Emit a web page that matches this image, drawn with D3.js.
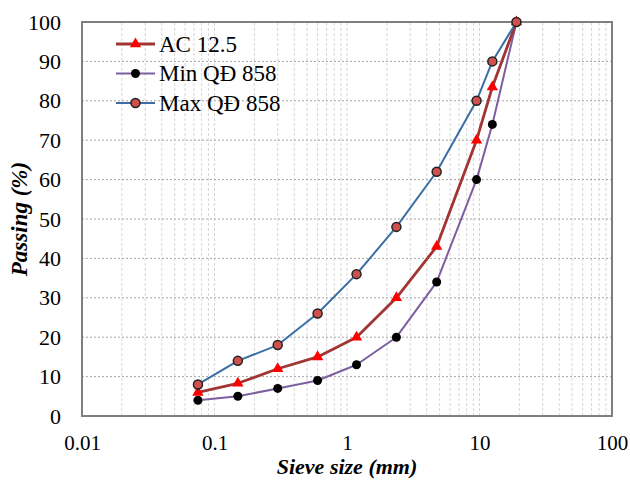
<!DOCTYPE html>
<html>
<head>
<meta charset="utf-8">
<script src="https://cdn.jsdelivr.net/npm/d3@7"></script>
<style>
  html, body { margin: 0; padding: 0; background: #fff; }
  svg { display: block; }
</style>
</head>
<body>
<svg id="chart" width="630" height="480"></svg>
<script>
// Sieve sizes (mm) and cumulative passing (%) for each gradation
const sieveSizes = [0.075, 0.15, 0.3, 0.6, 1.18, 2.36, 4.75, 9.5, 12.5, 19];
const ac125 = [6, 8.3, 12, 15, 20, 30, 43, 70, 83.5, 100];
const minQD = [4, 5, 7, 9, 13, 20, 34, 60, 74, 100];
const maxQD = [8, 14, 18, 26, 36, 48, 62, 80, 90, 100];
const seriesNames = ["AC 12.5", "Min QĐ 858", "Max QĐ 858"];
const xTicks = [0.01, 0.1, 1, 10, 100];
const yTicks = [0, 10, 20, 30, 40, 50, 60, 70, 80, 90, 100];

const svg = d3.select("#chart");
const font = "'Liberation Serif', 'Times New Roman', serif";
const margin = { left: 82, right: 18, top: 22, bottom: 64 };
const W = 630, H = 480;

const x = d3.scaleLog().domain([0.01, 100]).range([margin.left, W - margin.right]);
const y = d3.scaleLinear().domain([0, 100]).range([H - margin.bottom, margin.top]);

// vertical grid: every integer multiple within each decade
const vGrid = [];
for (let e = -2; e < 2; e++) {
  for (let k = 1; k <= 9; k++) vGrid.push(k * Math.pow(10, e));
}
vGrid.push(100);

const grid = svg.append("g");
grid.selectAll("line.v").data(vGrid).join("line")
  .attr("class", "v")
  .attr("x1", d => x(d)).attr("x2", d => x(d))
  .attr("y1", y(0)).attr("y2", y(100))
  .attr("stroke", "#d6d6d6").attr("stroke-width", 1)
  .attr("stroke-dasharray", "3,2");
grid.selectAll("line.h").data(yTicks.slice(1)).join("line")
  .attr("class", "h")
  .attr("x1", x(0.01)).attr("x2", x(100))
  .attr("y1", d => y(d)).attr("y2", d => y(d))
  .attr("stroke", "#a6a6a6").attr("stroke-width", 1)
  .attr("stroke-dasharray", "2,2");

// plot frame
svg.append("rect")
  .attr("x", x(0.01)).attr("y", y(100))
  .attr("width", x(100) - x(0.01)).attr("height", y(0) - y(100))
  .attr("fill", "none").attr("stroke", "#7f7f7f").attr("stroke-width", 2);

// axes (labels only, frame drawn above)
const xAxis = svg.append("g")
  .attr("transform", `translate(0,${y(0)})`)
  .call(d3.axisBottom(x).tickValues(xTicks).tickFormat(d => String(d)).tickSize(0).tickPadding(19));
const yAxis = svg.append("g")
  .attr("transform", `translate(${x(0.01)},0)`)
  .call(d3.axisLeft(y).tickValues(yTicks).tickSize(0).tickPadding(21));
xAxis.selectAll("text").attr("font-size", 21);
yAxis.selectAll("text").attr("font-size", 22);
[xAxis, yAxis].forEach(a => {
  a.select(".domain").remove();
  a.selectAll("text").attr("font-family", font).attr("fill", "#000");
});

// axis titles
svg.append("text")
  .attr("x", x(1)).attr("y", 474)
  .attr("text-anchor", "middle")
  .attr("font-family", font).attr("font-size", 22)
  .attr("font-weight", "bold").attr("font-style", "italic")
  .text("Sieve size (mm)");
svg.append("text")
  .attr("transform", `translate(27,${(y(0) + y(100)) / 2}) rotate(-90)`)
  .attr("text-anchor", "middle")
  .attr("font-family", font).attr("font-size", 23)
  .attr("font-weight", "bold").attr("font-style", "italic")
  .text("Passing (%)");

const series = [
  { name: seriesNames[0], values: ac125, line: "#a03533", width: 2.8, marker: "triangle", fill: "#ff0000", stroke: "#ff0000" },
  { name: seriesNames[1], values: minQD, line: "#7d5fa0", width: 2, marker: "circle", fill: "#000000", stroke: "#000000" },
  { name: seriesNames[2], values: maxQD, line: "#3a6ea5", width: 2, marker: "circle", fill: "#d0504d", stroke: "#222222" }
];

const line = d3.line().x(d => x(d[0])).y(d => y(d[1]));
const triangle = d3.symbol().type(d3.symbolTriangle).size(56);

function drawMarker(g, s, px, py) {
  if (s.marker === "triangle") {
    g.append("path").attr("d", triangle())
      .attr("transform", `translate(${px},${py})`)
      .attr("fill", s.fill);
  } else {
    g.append("circle").attr("cx", px).attr("cy", py).attr("r", 4.5)
      .attr("fill", s.fill).attr("stroke", s.stroke).attr("stroke-width", s.name === seriesNames[2] ? 1.5 : 0);
  }
}

// draw in back-to-front order: Min, AC, Max
[series[1], series[0], series[2]].forEach(s => {
  const pts = sieveSizes.map((d, i) => [d, s.values[i]]);
  const g = svg.append("g");
  g.append("path").datum(pts).attr("d", line)
    .attr("fill", "none").attr("stroke", s.line).attr("stroke-width", s.width)
    .attr("stroke-linejoin", "round");
  pts.forEach(p => drawMarker(g, s, x(p[0]), y(p[1])));
});

// legend
const legend = svg.append("g");
series.forEach((s, i) => {
  const cy = 44 + i * 29.5;
  legend.append("line")
    .attr("x1", 116).attr("x2", 155).attr("y1", cy).attr("y2", cy)
    .attr("stroke", s.line).attr("stroke-width", s.width);
  drawMarker(legend, s, 135.5, cy);
  legend.append("text")
    .attr("x", 159).attr("y", cy + 7.5)
    .attr("font-family", font).attr("font-size", 23)
    .text(s.name);
});
</script>
</body>
</html>
